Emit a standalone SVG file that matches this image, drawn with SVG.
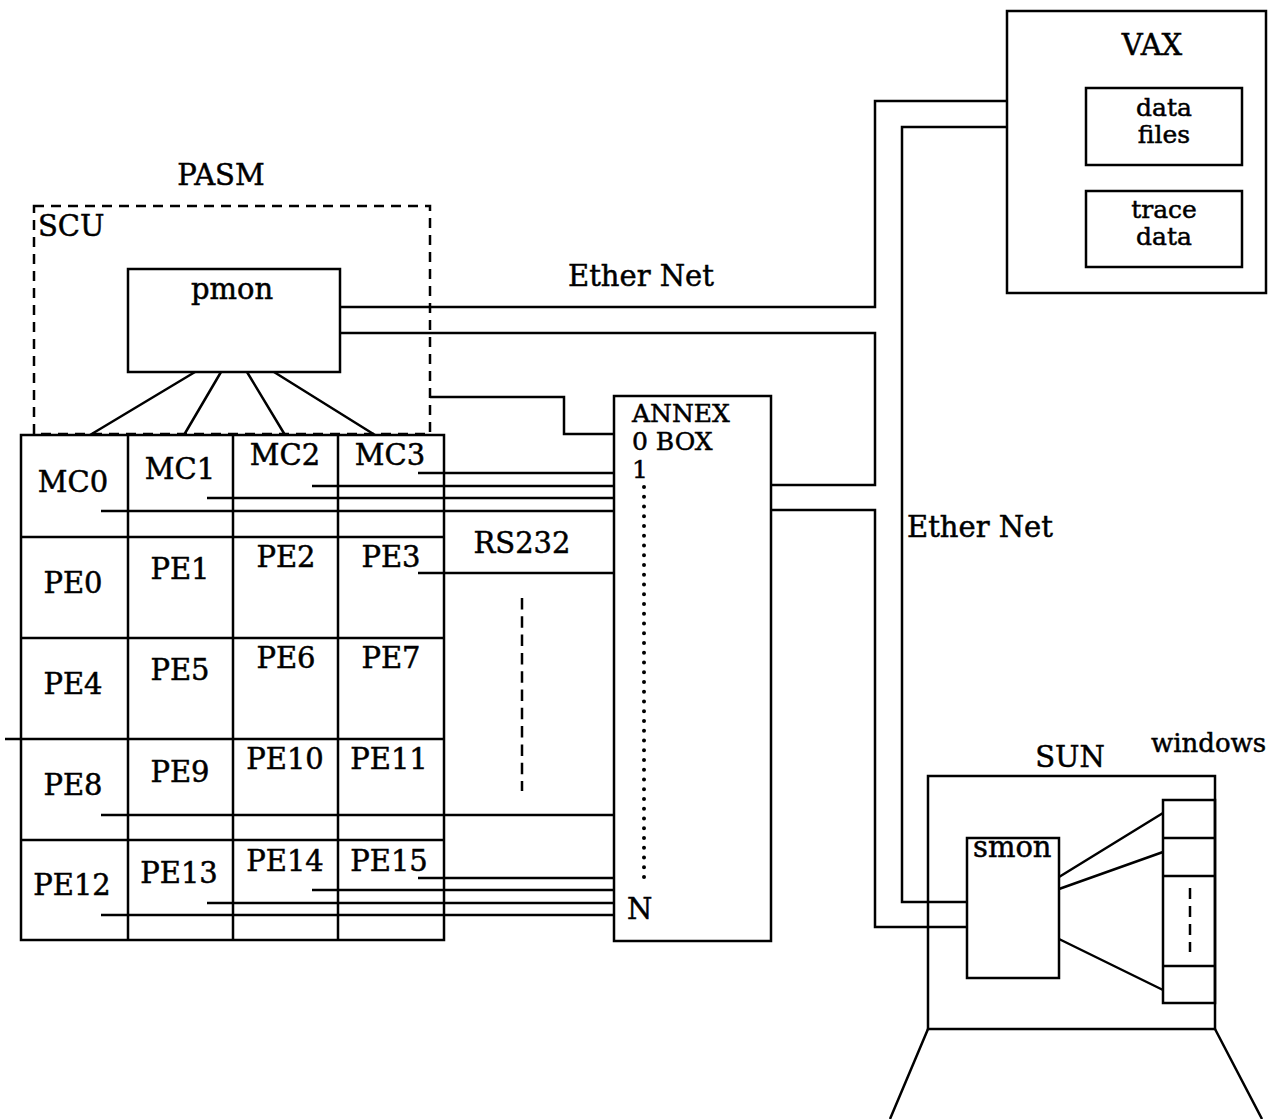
<svg xmlns="http://www.w3.org/2000/svg" width="1268" height="1119" viewBox="0 0 1268 1119">
<style>
text{font-family:"DejaVu Serif","Liberation Serif",serif;font-size:29px;fill:#000;stroke:#000;stroke-width:0.5}
.c{text-anchor:middle}
.s{font-size:25px}
.b{fill:none;stroke:#000;stroke-width:2.5}
.l{fill:none;stroke:#000;stroke-width:2.5}
.d{fill:none;stroke:#000;stroke-width:2.5;stroke-dasharray:10 7}
</style>
<rect width="1268" height="1119" fill="#fff"/>
<text class="c" x="221" y="185">PASM</text>
<g id="scu">
<rect class="d" x="34" y="206" width="396" height="228"/>
<text x="38" y="236">SCU</text>
</g>
<g id="pmon">
<rect class="b" x="128" y="269" width="212" height="103"/>
<text class="c" x="232" y="299">pmon</text>
</g>
<g id="grid">
<rect class="b" x="21" y="435" width="423" height="505"/>
<path class="l" d="M128 435V940M233 435V940M338 435V940M21 537H444M21 638H444M5 739H444M21 840H444"/>
<text class="c" x="73" y="492">MC0</text>
<text class="c" x="180" y="479">MC1</text>
<text class="c" x="285" y="465">MC2</text>
<text class="c" x="390" y="465">MC3</text>
<text class="c" x="73" y="593">PE0</text>
<text class="c" x="180" y="579">PE1</text>
<text class="c" x="286" y="567">PE2</text>
<text class="c" x="391" y="567">PE3</text>
<text class="c" x="73" y="694">PE4</text>
<text class="c" x="180" y="680">PE5</text>
<text class="c" x="286" y="668">PE6</text>
<text class="c" x="391" y="668">PE7</text>
<text class="c" x="73" y="795">PE8</text>
<text class="c" x="180" y="782">PE9</text>
<text class="c" x="285" y="769">PE10</text>
<text class="c" x="389" y="769">PE11</text>
<text class="c" x="72" y="895">PE12</text>
<text class="c" x="179" y="883">PE13</text>
<text class="c" x="285" y="871">PE14</text>
<text class="c" x="389" y="871">PE15</text>
</g>
<g id="annex">
<rect class="b" x="614" y="396" width="157" height="545"/>
<text x="632" y="422" class="s">ANNEX<tspan x="632" dy="28">0 BOX</tspan><tspan x="632" dy="28">1</tspan></text>
<text x="627" y="919">N</text>
<path d="M644 487V878" fill="none" stroke="#000" stroke-width="4" stroke-linecap="round" stroke-dasharray="0 9.75"/>
</g>
<g id="vax">
<rect class="b" x="1007" y="11" width="259" height="282"/>
<text class="c" x="1152" y="55">VAX</text>
<rect class="b" x="1086" y="88" width="156" height="77"/>
<text class="c s" x="1164" y="116">data<tspan x="1164" dy="27">files</tspan></text>
<rect class="b" x="1086" y="191" width="156" height="76"/>
<text class="c s" x="1164" y="218">trace<tspan x="1164" dy="27">data</tspan></text>
</g>
<g id="sun">
<rect class="b" x="928" y="776" width="287" height="253"/>
<text class="c" x="1070" y="767">SUN</text>
<text x="1151" y="752" style="font-size:26px">windows</text>
<path class="l" d="M928 1029L890 1119M1215 1029L1262 1119"/>
</g>
<g id="smon">
<rect class="b" x="967" y="838" width="92" height="140"/>
<text x="973" y="857">smon</text>
</g>
<g id="windows">
<rect class="b" x="1163" y="800" width="52" height="203"/>
<path class="l" d="M1163 838H1215M1163 876H1215M1163 966H1215"/>
<path class="l" d="M1190 888V952" stroke-dasharray="11 7"/>
</g>
<g id="connectors">
<path class="l" d="M195 372L90 435M221 372L184 435M247 372L285 435M274 372L375 435"/>
<path class="l" d="M340 307H875V101H1007"/>
<path class="l" d="M340 333H875V485H771"/>
<path class="l" d="M1007 127H902V902H967"/>
<path class="l" d="M771 510H875V927H967"/>
<path class="l" d="M430 397H564V434H614"/>
<path class="l" d="M418 473H614M312 486H614M207 498H614M101 511H614"/>
<path class="l" d="M418 573H614M101 815H614"/>
<path class="l" d="M418 878H614M312 890H614M207 903H614M101 915H614"/>
<path class="l" d="M522 598V791" stroke-dasharray="11.5 6.8"/>
<path class="l" d="M1059 877L1163 813M1059 889L1163 852M1059 939L1163 990"/>
<text x="568" y="286">Ether Net</text>
<text x="907" y="537">Ether Net</text>
<text class="c" x="522" y="553">RS232</text>
</g>
</svg>
